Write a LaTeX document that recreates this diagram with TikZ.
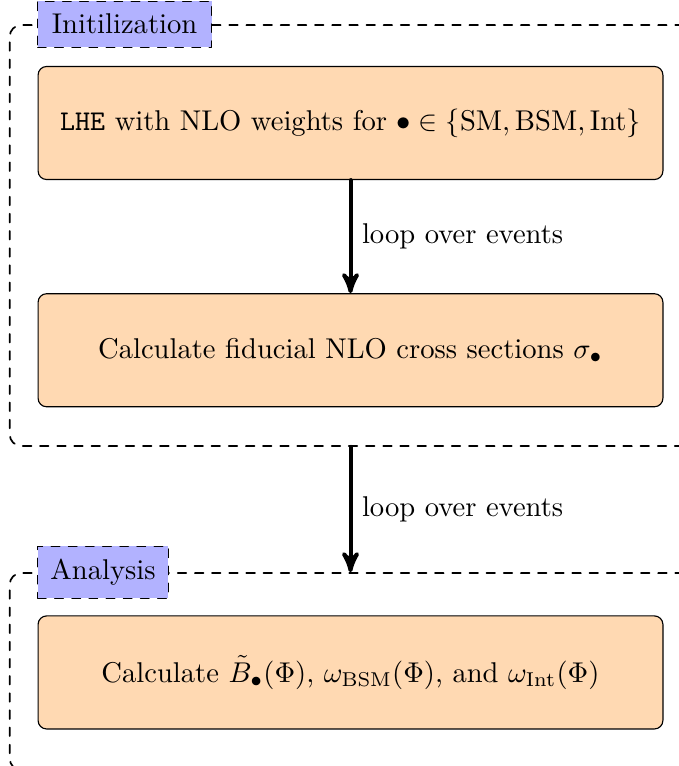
\documentclass[tikz,border=0pt]{standalone}
\usepackage{amsmath,amssymb,amsfonts}
\usepackage{tikz}
\usetikzlibrary{arrows,positioning}

\begin{document}
\begin{tikzpicture}[line cap=round,line join=round,>=stealth',x=1.0cm,y=1.0cm,
    stepbox/.style={draw=black,thin,rounded corners=3pt,fill=orange!30,minimum width=7.68cm,minimum height=1.39cm,align=center},
    framebox/.style={draw=black,semithick,dashed,rounded corners=4pt,minimum width=9.48cm},
    framelabel/.style={draw=black,dashed,fill=blue!30,inner sep=4.5pt,anchor=west},
    flow/.style={->,line width=1.4pt},
    node distance=1.389cm]
        \clip(0,0) rectangle (8.345,9.415);
        % steps
        \node[stepbox] (lhe) at (4.308,7.903) {\texttt{LHE} with NLO weights for $\bullet\in\{\mathrm{SM},\mathrm{BSM},\mathrm{Int}\}$};
        \node[stepbox,below=of lhe] (xsec) {Calculate fiducial NLO cross sections $\sigma_\bullet$};
        \node[stepbox,below=2.556cm of xsec] (weights) {Calculate $\tilde{B}_\bullet(\Phi)$, $\omega_{\mathrm{BSM}}(\Phi)$, and $\omega_{\mathrm{Int}}(\Phi)$};
        % frames
        \node[framebox,minimum height=5.174cm] (init) at (4.86,6.52) {};
        \node[framebox,minimum height=2.422cm] (ana) at (4.86,1.161) {};
        \node[framelabel,inner xsep=5pt] (initlabel) at (init.north -| 0.455,0) {Initilization};
        \node[framelabel] (analabel) at (ana.north -| 0.455,0) {Analysis};
        % loops
        \draw [flow] (lhe) -- (xsec) node[midway,right] (loopa) {loop over events};
        \draw [flow] (xsec |- init.south) -- (xsec |- ana.north) node[midway,right] (loopb) {loop over events};
\end{tikzpicture}
\end{document}
